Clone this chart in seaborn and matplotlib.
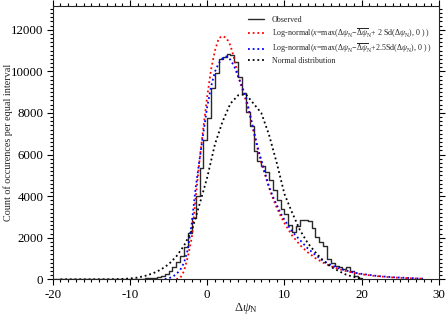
import numpy as np
import pandas as pd
import matplotlib
matplotlib.use("Agg")
import matplotlib.pyplot as plt
import seaborn as sns

# ---- data ----
obs_start = -20.0
obs_width = 0.5
obs_counts = [0, 0, 0, 0, 0, 0, 0, 0, 0, 0, 0, 0, 0, 0, 0, 0,   # -20 .. -12.5
              3, 5, 8, 10, 15, 20,                               # -12 .. -9.5
              25, 35, 45, 60, 85, 110, 160, 250, 400, 600,       # -9 .. -4.5
              830, 1130, 1550, 2220, 2950, 4000, 5330, 6680,     # -4 .. -0.5
              7750, 9200, 9900, 10600, 10700, 10850, 10800, 10450,  # 0 .. 3.5
              9750, 8950, 8050, 7350, 6150, 5700, 5450, 5150,    # 4 .. 7.5
              4800, 4300, 3800, 3400, 3150, 2600, 2280, 2550,    # 8 .. 11.5
              2850, 2850, 2800, 2450, 2050, 1800, 1620, 1000,    # 12 .. 15.5
              770, 660, 580, 510, 610, 420, 180, 50]             # 16 .. 19.5

red_x = [-4, -3.5, -3, -2.5, -2, -1.5, -1, -0.5, 0, 0.5, 1, 1.5, 2, 2.5, 3, 3.5,
         4, 4.5, 5, 5.5, 6, 6.5, 7, 7.5, 8, 8.5, 9, 9.5, 10, 10.5, 11, 11.5, 12,
         13, 14, 15, 16, 17, 18, 19, 20, 22, 24, 26, 28]
red_y = [10, 60, 400, 1100, 2000, 3900, 5700, 7300, 8800, 10100, 11000, 11600, 11700,
         11600, 11250, 10600, 9800, 9200, 8600, 7900, 7100, 6300, 5600, 5000, 4400,
         3900, 3450, 3050, 2700, 2400, 2100, 1880, 1650, 1300, 1020, 800, 630, 500,
         390, 310, 240, 150, 90, 55, 30]

blue_x = [-5.5, -5, -4.5, -4, -3.5, -3, -2.5, -2, -1.5, -1, -0.5, 0, 0.5, 1, 1.5, 2,
          2.5, 3, 3.5, 4, 4.5, 5, 5.5, 6, 6.5, 7, 7.5, 8, 8.5, 9, 9.5, 10, 11, 12,
          13, 14, 15, 16, 17, 18, 19, 20, 22, 24, 26, 28]
blue_y = [10, 50, 120, 250, 450, 800, 1450, 2700, 4400, 5750, 7050, 8300, 9270, 9990,
          10400, 10640, 10720, 10560, 10240, 9750, 9270, 8790, 7990, 7190, 6390, 5740,
          5100, 4460, 3980, 3580, 3180, 2860, 2290, 1890, 1490, 1170, 900, 690, 530,
          420, 320, 260, 160, 100, 65, 30]

norm_x = [-19, -18, -17, -16, -15, -14, -13, -12, -11, -10, -9, -8, -7, -6, -5, -4,
          -3, -2, -1, 0, 1, 2, 3, 4, 5, 6, 7, 8, 9, 10, 11, 12, 13, 14, 15, 16, 17,
          18, 19, 20]
norm_y = [0, 0, 0, 0, 1, 2, 3, 8, 18, 40, 85, 170, 290, 470, 720, 1100, 1620, 2350,
          3600, 4900, 6500, 7600, 8450, 8850, 8900, 8450, 8000, 6950, 5600, 4100,
          3200, 2370, 1750, 1300, 900, 600, 400, 220, 110, 40]

legend_labels = [
    "Observed",
    r"Log-normal($x$=max($\Delta\psi_\mathrm{N}$$-\overline{\Delta\psi}_\mathrm{N}$+ 2 Sd($\Delta\psi_\mathrm{N}$), 0 ) )",
    r"Log-normal($x$=max($\Delta\psi_\mathrm{N}$$-\overline{\Delta\psi}_\mathrm{N}$+2.5Sd($\Delta\psi_\mathrm{N}$), 0 ) )",
    "Normal distribution",
]

# ---- style ----
sns.set_style("ticks")
plt.rcParams["font.family"] = ["Liberation Serif", "DejaVu Serif"]
plt.rcParams["mathtext.fontset"] = "custom"
plt.rcParams["mathtext.rm"] = "Liberation Serif"
plt.rcParams["mathtext.it"] = "Liberation Serif:italic"
plt.rcParams["mathtext.bf"] = "Liberation Serif:bold"
plt.rcParams["axes.unicode_minus"] = False

fig = plt.figure(figsize=(4.47, 3.15), dpi=100)
ax = fig.add_axes([0.118, 0.1133, 0.864, 0.868])

n_bins = len(obs_counts)
centers = obs_start + obs_width * (np.arange(n_bins) + 0.5)
obs_df = pd.DataFrame({"x": centers, "w": np.asarray(obs_counts, dtype=float)})
sns.histplot(data=obs_df, x="x", weights="w", binwidth=obs_width,
             binrange=(obs_start, obs_start + obs_width * n_bins),
             element="step", fill=False,
             color="#2a2a2a", linewidth=1.0, ax=ax, label=legend_labels[0])

dot = (0, (1, 1.6))
sns.lineplot(x=red_x, y=red_y, color="#ff0000", linestyle=dot, linewidth=1.3,
             ax=ax, label=legend_labels[1])
sns.lineplot(x=blue_x, y=blue_y, color="#0000ff", linestyle=dot, linewidth=1.3,
             ax=ax, label=legend_labels[2])
sns.lineplot(x=norm_x, y=norm_y, color="#000000", linestyle=dot, linewidth=1.3,
             ax=ax, label=legend_labels[3])

ax.set_xlim(-20, 30)
ax.set_ylim(0, 13150)
ax.set_xticks([-20, -10, 0, 10, 20, 30])
ax.set_yticks([0, 2000, 4000, 6000, 8000, 10000, 12000])
ax.xaxis.set_minor_locator(matplotlib.ticker.MultipleLocator(1))
ax.yaxis.set_minor_locator(matplotlib.ticker.MultipleLocator(200))
ax.tick_params(which="both", direction="out", top=True, right=True, labelsize=9.3,
               width=0.8, colors="black")
ax.tick_params(which="major", length=4.3, pad=2.5)
ax.tick_params(which="minor", length=2)
for s in ax.spines.values():
    s.set_visible(True)
    s.set_linewidth(0.8)

ax.set_xlabel(r"$\Delta\psi_\mathrm{N}$", fontsize=9, labelpad=0)
ax.set_ylabel("Count of occurences per equal interval", fontsize=7.3)
ax.yaxis.set_label_coords(-0.104, 0.5)

leg = ax.legend(loc="upper left", bbox_to_anchor=(0.505, 0.962), frameon=False,
                fontsize=5.8, handlelength=2.0, handletextpad=1.0, labelspacing=0.2,
                borderaxespad=0.0, borderpad=0.0)

fig.savefig("out.png", dpi=100)
